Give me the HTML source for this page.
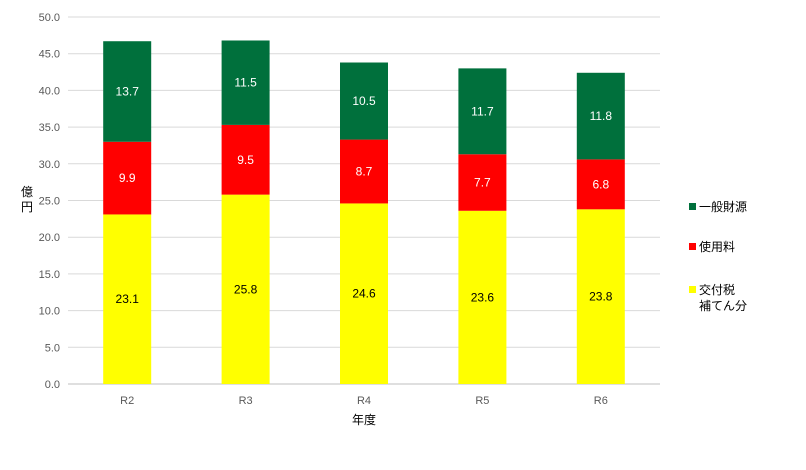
<!DOCTYPE html>
<html><head><meta charset="utf-8"><style>
body{margin:0;background:#fff;width:806px;height:465px;overflow:hidden;font-family:"Liberation Sans","Noto Sans CJK JP",sans-serif;}
</style></head><body>
<svg id="c" width="806" height="465" xmlns="http://www.w3.org/2000/svg" font-family="Liberation Sans, Noto Sans CJK JP, sans-serif">
<g id="grid"></g>
<g id="bars"></g>
<g id="axes"></g>
<text x="27" y="203" font-size="12" text-anchor="middle"><tspan x="27" dy="-7">億</tspan><tspan x="27" dy="15">円</tspan></text>
<text x="364" y="424" font-size="12" text-anchor="middle">年度</text>
<g>
<g><rect x="689" y="203" width="7" height="7" fill="#00703C"/><text x="699" y="211" font-size="12">一般財源</text></g>
<g><rect x="689" y="243" width="7" height="7" fill="#FF0000"/><text x="699" y="251" font-size="12">使用料</text></g>
<g><rect x="689" y="286" width="7" height="7" fill="#FFFF00"/><text x="699" y="294" font-size="12">交付税</text><text x="699" y="310" font-size="12">補てん分</text></g>
</g>
</svg>
<script>
const categories=["R2","R3","R4","R5","R6"];
const subsidy=[23.1,25.8,24.6,23.6,23.8];
const fees=[9.9,9.5,8.7,7.7,6.8];
const general=[13.7,11.5,10.5,11.7,11.8];
const yTicks=[0,5,10,15,20,25,30,35,40,45,50];
const NS="http://www.w3.org/2000/svg";
const x0=68,x1=660,yTop=17,yBot=384,yMax=50;
const y=v=>yBot-(v/yMax)*(yBot-yTop);
const band=(x1-x0)/categories.length;
const xc=i=>x0+band*(i+0.5);
const bw=48;
function mk(t,a,p){const e=document.createElementNS(NS,t);for(const k in a)e.setAttribute(k,a[k]);p.appendChild(e);return e;}
const grid=document.getElementById('grid'),bars=document.getElementById('bars'),axes=document.getElementById('axes');
yTicks.forEach(t=>{
 const l=mk('line',{x1:x0,x2:x1,y1:y(t),y2:y(t),stroke:t===0?'#bfbfbf':'#d9d9d9','stroke-width':1},grid);
 
 
 const tx=mk('text',{x:60,y:y(t)+4,'font-size':11,'text-anchor':'end',fill:'#595959'},axes);
 tx.textContent=t.toFixed(1);
 
 
});
const series=[[subsidy,'#FFFF00','#000'],[fees,'#FF0000','#fff'],[general,'#00703C','#fff']];
categories.forEach((c,i)=>{
 let base=0;
 series.forEach(([arr,col,tc])=>{
  const v=arr[i];
  const r=mk('rect',{x:xc(i)-bw/2,y:y(base+v),width:bw,height:y(base)-y(base+v),fill:col},bars);
  
  
  const t=mk('text',{x:xc(i),y:(y(base)+y(base+v))/2+4,'font-size':12,'text-anchor':'middle',fill:tc},bars);
  t.textContent=v.toFixed(1);
  
  
  base+=v;
 });
 const xl=mk('text',{x:xc(i),y:404,'font-size':11,'text-anchor':'middle',fill:'#595959'},axes);
 xl.textContent=c;
 
 
});
</script>
</body></html>
